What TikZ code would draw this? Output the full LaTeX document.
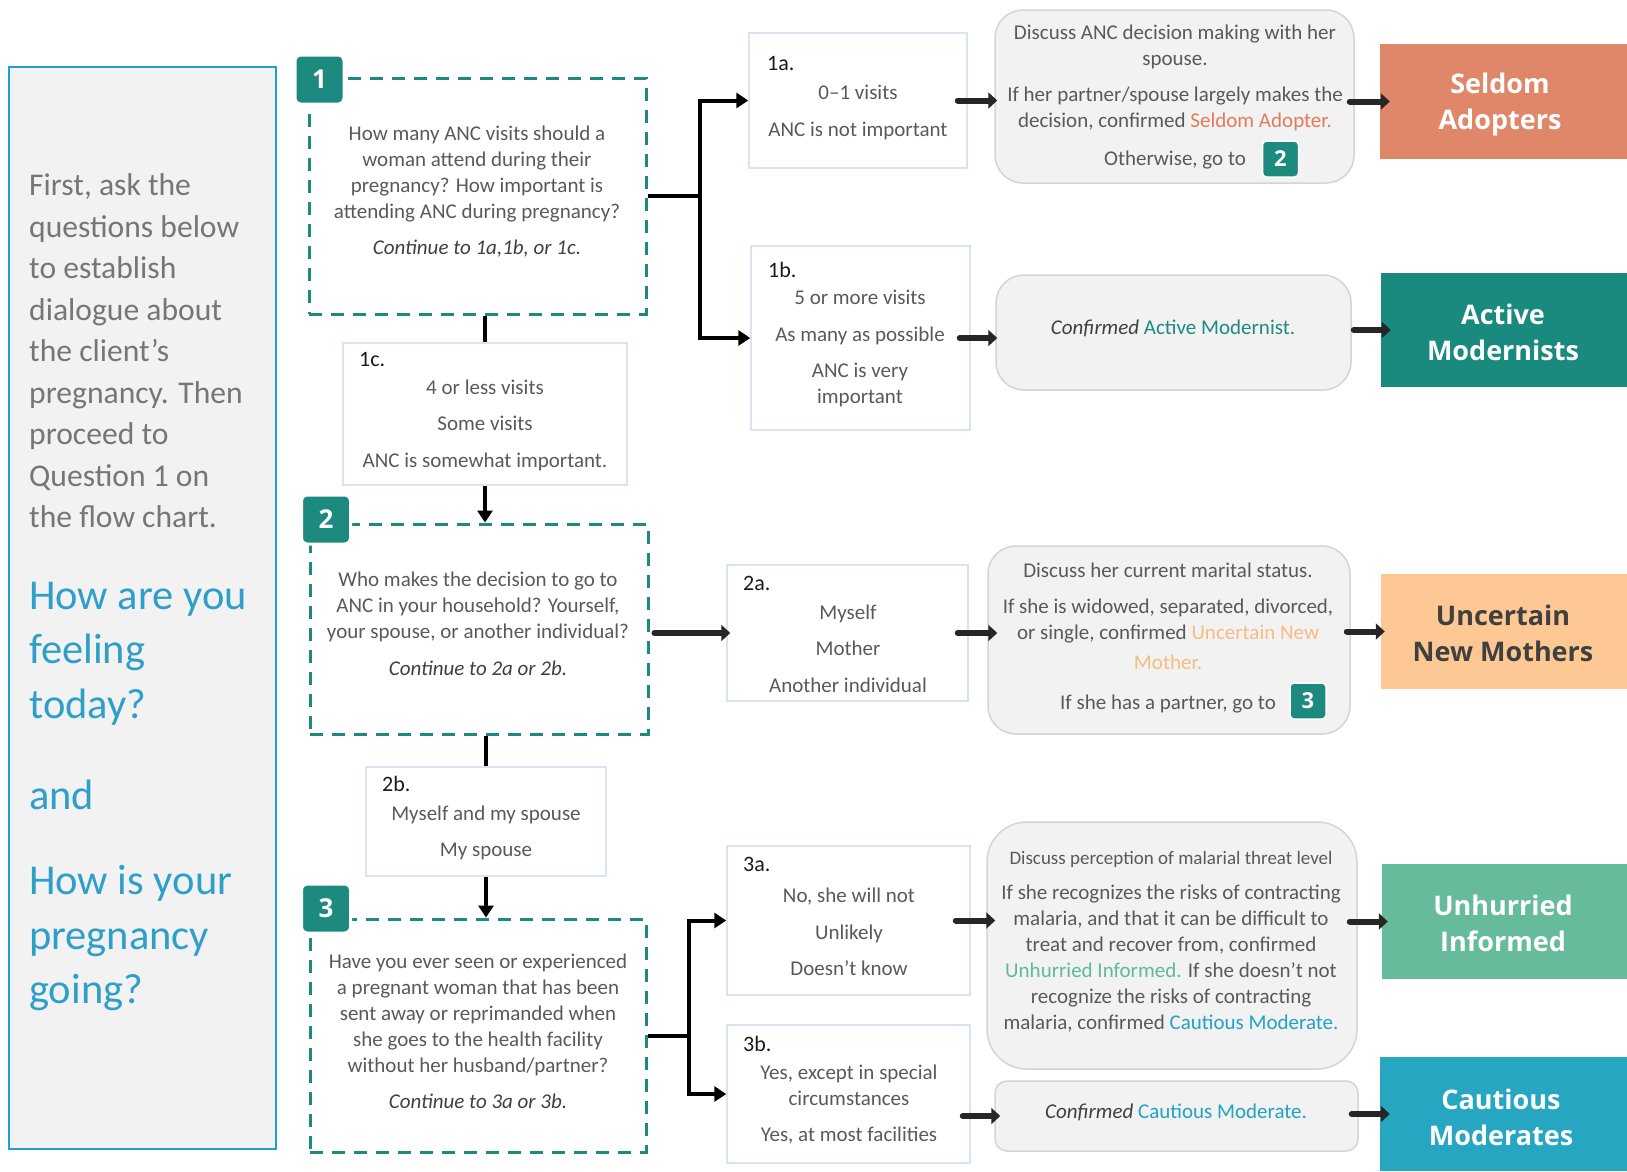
\documentclass[tikz,border=0pt]{standalone}
\usepackage{fontspec}
\setmainfont{Carlito}
\newfontfamily\headfont{Open Sans}
\usetikzlibrary{positioning,
	calc,
	arrows.meta}
\definecolor{qteal}{HTML}{1D8A7F}
\definecolor{sdfill}{HTML}{E0876A}
\definecolor{amfill}{HTML}{1B8A7E}
\definecolor{unmfill}{HTML}{FDC894}
\definecolor{uifill}{HTML}{66BB9A}
\definecolor{cmfill}{HTML}{27A6C2}
\definecolor{sdtxt}{HTML}{E57A5A}
\definecolor{amtxt}{HTML}{1D8A7F}
\definecolor{unmtxt}{HTML}{F7BC82}
\definecolor{uitxt}{HTML}{5EBB95}
\definecolor{cmtxt}{HTML}{22A2C4}
\definecolor{panelbg}{HTML}{F2F2F2}
\definecolor{panelline}{HTML}{1BA1D8}
\definecolor{introgray}{HTML}{767676}
\definecolor{qblue}{HTML}{2E9FC9}
\definecolor{txtgray}{HTML}{595959}
\definecolor{contgray}{HTML}{404040}
\definecolor{lblblack}{HTML}{1A1A1A}
\definecolor{ansline}{HTML}{DAE3F3}
\definecolor{fbline}{HTML}{D4D4D4}
\definecolor{arrgray}{HTML}{262626}
\tikzstyle{qbox}=[draw=qteal, line width=3pt, dash pattern=on 13pt off 9pt, inner sep=0]
\tikzstyle{num}=[fill=qteal, draw=white, line width=3pt, rounded corners=6pt, minimum size=49pt, inner sep=0, text=white, font=\headfont\bfseries\fontsize{26}{26}\selectfont]
\tikzstyle{smallnum}=[num, minimum size=36pt, rounded corners=4pt, line width=1.5pt, font=\headfont\bfseries\fontsize{22}{22}\selectfont]
\tikzstyle{abox}=[draw=ansline, line width=1.5pt, inner sep=0]
\tikzstyle{fbox}=[draw=fbline, fill=panelbg, line width=1.5pt, rounded corners=28pt, inner sep=0]
\tikzstyle{obox}=[inner sep=0, align=center, text=white, font=\headfont\bfseries\fontsize{27}{36}\selectfont]
\tikzstyle{otxt}=[inner sep=0, align=center, text=white, font=\headfont\bfseries\fontsize{27}{36}\selectfont]
\tikzstyle{txt}=[inner sep=0, align=center, text=txtgray, font=\fontsize{21}{26}\selectfont]
\tikzstyle{lbl}=[inner sep=0, anchor=west, text=lblblack, font=\fontsize{22}{26}\selectfont]
\tikzstyle{conn}=[line width=4pt, black]
\tikzstyle{link}=[conn, -{Triangle[length=12pt,width=15pt]}]
\tikzstyle{nextarr}=[draw=arrgray, line width=6pt, line cap=round, -{Triangle[length=9pt,width=16pt]}]

\begin{document}
\begin{tikzpicture}[x=1pt, y=-1pt]
\useasboundingbox (0,0) rectangle (1627,1171);

% left panel
\node[draw=panelline, fill=panelbg, line width=1.5pt, minimum width=267, minimum height=1082, inner sep=0] (panel) at (142.5,608) {};
\node[anchor=west, align=left, inner sep=0, text=introgray, font=\fontsize{31.6}{41.5}\selectfont] (intro) at (29,351)
	{First, ask the\\questions below\\to establish\\dialogue about\\the client’s\\pregnancy. Then\\proceed to\\Question 1 on\\the flow chart.};
\node[anchor=west, align=left, inner sep=0, text=qblue, font=\fontsize{42.5}{54.5}\selectfont] (feel) at (29,653.5) {How are you\\feeling\\today?};
\node[anchor=west, inner sep=0, text=qblue, font=\fontsize{42.5}{54.5}\selectfont] (and) at (29,795) {and};
\node[anchor=west, align=left, inner sep=0, text=qblue, font=\fontsize{42.5}{54.5}\selectfont] (preg) at (29,938.5) {How is your\\pregnancy\\going?};

% questions
\node[qbox, minimum width=337, minimum height=236] (q1) at (477.5,196) {};
\node[qbox, minimum width=338, minimum height=210] (q2) at (479,629) {};
\node[qbox, minimum width=336, minimum height=233] (q3) at (478,1035.5) {};
\node[num] (n1) at (319.5,79.5) {1};
\node[num] (n2) at (326,519.5) {2};
\node[num] (n3) at (326,908.5) {3};
\node[txt] (q1txt) at (477,191.5) {How many ANC visits should a\\woman attend during their\\pregnancy? How important is\\attending ANC during pregnancy?\\[10pt]\textcolor{contgray}{\textit{Continue to 1a,1b, or 1c.}}};
\node[txt] (q2txt) at (478,623.5) {Who makes the decision to go to\\ANC in your household? Yourself,\\your spouse, or another individual?\\[11pt]\textcolor{contgray}{\textit{Continue to 2a or 2b.}}};
\node[txt] (q3txt) at (478,1031) {Have you ever seen or experienced\\a pregnant woman that has been\\sent away or reprimanded when\\she goes to the health facility\\without her husband/partner?\\[10pt]\textcolor{contgray}{\textit{Continue to 3a or 3b.}}};

% answers
\node[abox, minimum width=218, minimum height=135] (a1) at (858,100.5) {};
\node[abox, minimum width=219, minimum height=184] (b1) at (860.5,338) {};
\node[abox, minimum width=284, minimum height=142] (c1) at (485,414) {};
\node[abox, minimum width=241, minimum height=136] (a2) at (847.5,633) {};
\node[abox, minimum width=240, minimum height=109] (b2) at (486,821.5) {};
\node[abox, minimum width=243, minimum height=149] (a3) at (848.5,920.5) {};
\node[abox, minimum width=243, minimum height=138] (b3) at (848.5,1094) {};
\node[lbl] (a1lbl) at (767,64) {1a.};
\node[lbl] (b1lbl) at (768,270) {1b.};
\node[lbl] (c1lbl) at (359,359) {1c.};
\node[lbl] (a2lbl) at (743,583) {2a.};
\node[lbl] (b2lbl) at (382,784) {2b.};
\node[lbl] (a3lbl) at (743,864) {3a.};
\node[lbl] (b3lbl) at (743,1044) {3b.};
\node[txt] (a1txt) at (858,112.5) {0–1 visits\\[11pt]ANC is not important};
\node[txt] (b1txt) at (860,348.5) {5 or more visits\\[11pt]As many as possible\\[10pt]ANC is very\\important};
\node[txt] (c1txt) at (485,425.5) {4 or less visits\\[10pt]Some visits\\[11pt]ANC is somewhat important.};
\node[txt] (a2txt) at (848,648.5) {Myself\\[10pt]Mother\\[11pt]Another individual};
\node[txt] (b2txt) at (486,833) {Myself and my spouse\\[10pt]My spouse};
\node[txt] (a3txt) at (849,931.5) {No, she will not\\[11pt]Unlikely\\[10pt]Doesn’t know};
\node[txt] (b3txt) at (849,1105) {Yes, except in special\\circumstances\\[10pt]Yes, at most facilities};

% follow-up boxes
\node[fbox, minimum width=359, minimum height=173] (fA) at (1174.5,96.5) {};
\node[fbox, minimum width=355, minimum height=115] (fB) at (1173.5,332.5) {};
\node[fbox, minimum width=362, minimum height=188] (fC) at (1169,640) {};
\node[fbox, minimum width=370, minimum height=247, rounded corners=40pt] (fD) at (1172,945.5) {};
\node[fbox, minimum width=363, minimum height=70, rounded corners=12pt] (fE) at (1176.5,1116) {};
\node[txt] (fAtxt) at (1175,97) {Discuss ANC decision making with her\\spouse.\\[10pt]If her partner/spouse largely makes the\\decision, confirmed \textcolor{sdtxt}{Seldom Adopter.}\\[12pt]Otherwise, go to};
\node[smallnum] (g2) at (1280.5,159) {2};
\node[txt] (fBtxt) at (1173,328) {\textcolor{contgray}{\textit{Confirmed}} \textcolor{amtxt}{Active Modernist.}};
\node[txt] (fCtxt) at (1168,638) {Discuss her current marital status.\\[10pt]If she is widowed, separated, divorced,\\or single, confirmed \textcolor{unmtxt}{Uncertain New}\\[4pt]\textcolor{unmtxt}{Mother.}\\[14pt]If she has a partner, go to};
\node[smallnum] (g3) at (1308,701) {3};
\node[txt] (fDtxt) at (1171,941.5) {{\fontsize{19}{26}\selectfont Discuss perception of malarial threat level}\\[9pt]If she recognizes the risks of contracting\\malaria, and that it can be difficult to\\treat and recover from, confirmed\\\textcolor{uitxt}{Unhurried Informed.} If she doesn’t not\\recognize the risks of contracting\\malaria, confirmed \textcolor{cmtxt}{Cautious Moderate.}};
\node[txt] (fEtxt) at (1176,1112) {\textcolor{contgray}{\textit{Confirmed}} \textcolor{cmtxt}{Cautious Moderate.}};

% segments
\node[obox, fill=sdfill, minimum width=247, minimum height=115] (sa) at (1503.5,101.5) {};
\node[obox, fill=amfill, minimum width=246, minimum height=114] (am) at (1504,330) {};
\node[obox, fill=unmfill, minimum width=246, minimum height=115] (unm) at (1504,631.5) {};
\node[obox, fill=uifill, minimum width=245, minimum height=115] (ui) at (1504.5,921.5) {};
\node[obox, fill=cmfill, minimum width=247, minimum height=114] (cm) at (1503.5,1114) {};
\node[otxt] (satxt) at (1500,104) {Seldom\\Adopters};
\node[otxt] (amtxt) at (1503,332) {Active\\Modernists};
\node[otxt, text=contgray] (unmtxt) at (1503,633) {Uncertain\\New Mothers};
\node[otxt] (uitxt) at (1503,923) {Unhurried\\Informed};
\node[otxt] (cmtxt) at (1501,1117) {Cautious\\Moderates};

% connectors
\coordinate (f1) at (700,196);
\coordinate (f3) at (689,1035.5);
\draw[conn] (q1.east) -- (f1);
\draw[link] (f1) |- (a1.west);
\draw[link] (f1) |- (b1.west);
\draw[conn] (q3.east) -- (f3);
\draw[link] (f3) |- (a3.west);
\draw[link] (f3) |- (b3.west);
\draw[conn] (c1.north |- q1.south) -- (c1.north);
\draw[link] (c1.south) -- (c1.south |- q2.north);
\draw[conn] (b2.north |- q2.south) -- (b2.north);
\draw[link] (b2.south) -- (b2.south |- q3.north);

\draw[nextarr] ($(q2.east |- a2.west)+(5,0)$) -- ($(a2.west)+(4,0)$);
\draw[nextarr] ($(a1.east)+(-10,0)$) -- ($(a1.east -| fA.west)+(3,0)$);
\draw[nextarr] ($(fA.east |- sa.west)+(-5,0)$) -- ($(sa.west)+(10,0)$);
\draw[nextarr] ($(b1.east)+(-11,0)$) -- ($(b1.east -| fB.west)+(2,0)$);
\draw[nextarr] ($(fB.east |- am.west)+(2,0)$) -- ($(am.west)+(10,0)$);
\draw[nextarr] ($(a2.east)+(-11,0)$) -- ($(a2.east -| fC.west)+(10,0)$);
\draw[nextarr] ($(fC.east |- unm.west)+(-4,0)$) -- ($(unm.west)+(4,0)$);
\draw[nextarr] ($(a3.east)+(-15,0)$) -- ($(a3.east -| fD.west)+(9,0)$);
\draw[nextarr] ($(fD.east |- ui.west)+(-8,0)$) -- ($(ui.west)+(6,0)$);
\draw[nextarr] ($(b3.east |- fE.west)+(-8,0)$) -- ($(fE.west)+(6,0)$);
\draw[nextarr] ($(fE.east |- cm.west)+(-7,0)$) -- ($(cm.west)+(10,0)$);
\end{tikzpicture}
\end{document}
